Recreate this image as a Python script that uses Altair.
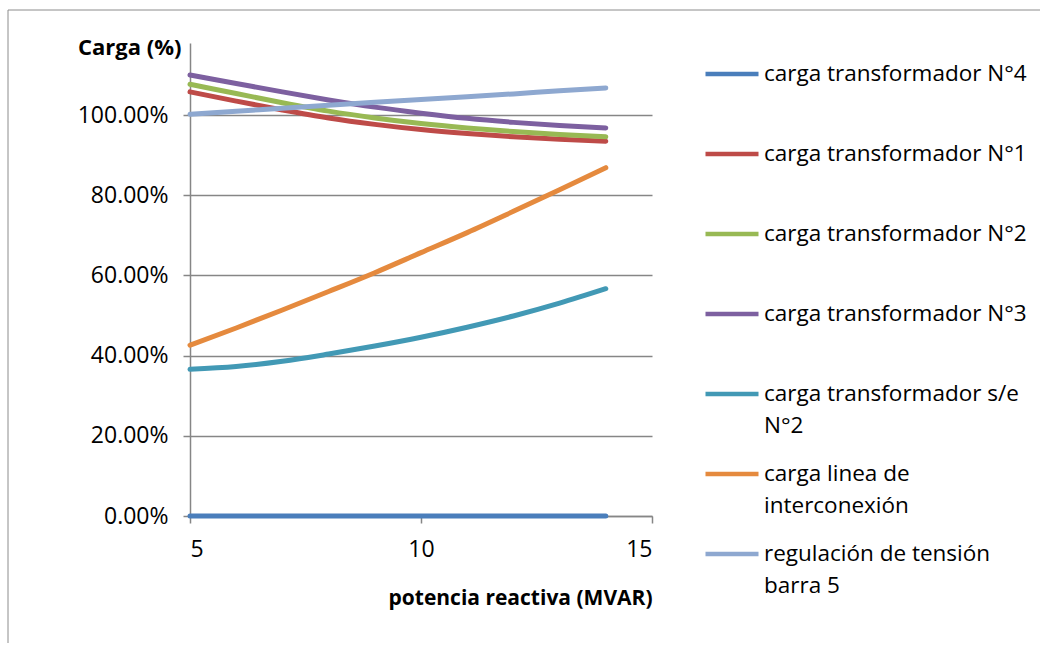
import altair as alt
import pandas as pd

x_vals = [5, 6, 7, 8, 9, 10, 11, 12, 13, 14]

series_names = [
    "carga transformador N°4",
    "carga transformador N°1",
    "carga transformador N°2",
    "carga transformador N°3",
    "carga transformador s/e N°2",
    "carga linea de interconexión",
    "regulación de tensión barra 5",
]

tr4 = [0.0, 0.0, 0.0, 0.0, 0.0, 0.0, 0.0, 0.0, 0.0, 0.0]
tr1 = [105.8, 103.5, 101.3, 99.3, 97.7, 96.4, 95.4, 94.6, 94.0, 93.5]
tr2 = [107.7, 105.4, 103.1, 101.0, 99.3, 97.9, 96.8, 95.9, 95.2, 94.6]
tr3 = [110.0, 107.9, 105.8, 103.8, 102.0, 100.5, 99.2, 98.2, 97.4, 96.8]
se2 = [36.6, 37.3, 38.6, 40.4, 42.4, 44.6, 47.1, 49.9, 53.1, 56.7]
linea = [42.6, 46.9, 51.4, 56.0, 60.7, 65.7, 70.7, 76.0, 81.4, 86.9]
regul = [100.2, 101.0, 101.7, 102.5, 103.2, 103.9, 104.6, 105.3, 106.1, 106.8]

series_values = [tr4, tr1, tr2, tr3, se2, linea, regul]
colors = ["#4A7EBB", "#BE4B48", "#98B954", "#7D60A0", "#4299B5", "#E58A3E", "#8EA8D0"]

y_ticks = [0.0, 0.2, 0.4, 0.6, 0.8, 1.0]
x_ticks = [5, 10, 15]

rows = []
for i, (name, vals) in enumerate(zip(series_names, series_values)):
    for xv, v in zip(x_vals, vals):
        rows.append({"x": xv, "v": v / 100.0, "serie": name, "order": i})
df = pd.DataFrame(rows)

FONT = "Open Sans"

label_expr = (
    "datum.label == 'carga transformador s/e N°2' ? ['carga transformador s/e', 'N°2'] : "
    "datum.label == 'carga linea de interconexión' ? ['carga linea de', 'interconexión'] : "
    "datum.label == 'regulación de tensión barra 5' ? ['regulación de tensión', 'barra 5'] : datum.label"
)

lines = alt.Chart(df).mark_line(strokeWidth=5, strokeCap="round", interpolate="monotone").encode(
    x=alt.X("x:Q",
            scale=alt.Scale(domain=[5, 15], nice=False, zero=False),
            axis=alt.Axis(values=x_ticks, format="d", title="potencia reactiva (MVAR)",
                          grid=False, tickSize=7, labelPadding=15,
                          titleAnchor="end", titleAlign="right", titleX=462, titleY=88,
                          titleFontSize=21, titleBaseline="alphabetic")),
    y=alt.Y("v:Q",
            scale=alt.Scale(domain=[0, 1.18], nice=False),
            axis=alt.Axis(values=y_ticks, format=".2%", title="Carga (%)",
                          grid=True, tickSize=7, labelPadding=15,
                          titleAngle=0, titleAlign="right", titleX=-9, titleY=11,
                          titleFontSize=22, titleBaseline="alphabetic")),
    color=alt.Color("serie:N",
                    scale=alt.Scale(domain=series_names, range=colors),
                    legend=alt.Legend(title=None, orient="none", legendX=513, legendY=2,
                                      symbolType="stroke", symbolSize=2809, symbolStrokeWidth=4.5,
                                      labelExpr=label_expr, labelLimit=500, labelOffset=3,
                                      gridAlign="all", rowPadding=7, padding=0,
                                      labelFont=FONT, labelFontSize=22.5, labelColor="#000000",
                                      labelBaseline="middle")),
    order=alt.Order("order:Q"),
)

frame_data = alt.Data(values=[{"k": 1}])
frame_left = alt.Chart(frame_data).mark_rule(color="#8c8c8c", strokeWidth=1).encode(
    x=alt.value(-182), y=alt.value(-33), y2=alt.value(600)
)
frame_top = alt.Chart(frame_data).mark_rule(color="#8c8c8c", strokeWidth=1).encode(
    x=alt.value(-182), x2=alt.value(850), y=alt.value(-33)
)

chart = alt.layer(frame_left, frame_top, lines).properties(
    width=462, height=473,
    padding={"left": 7, "top": 9, "right": 0, "bottom": 0},
).configure(
    style=alt.StyleConfigIndex(**{"guide-label": {"lineHeight": 32}})
).configure_view(stroke=None).configure_axis(
    labelFont=FONT, labelFontSize=23, labelColor="#000000",
    titleFont=FONT, titleFontWeight="bold", titleColor="#000000",
    domainColor="#868686", tickColor="#868686", gridColor="#868686",
    domainWidth=1.5, tickWidth=1.5, gridWidth=1.5,
)

chart.save("out.html", embed_options={"renderer": "svg", "actions": False})
